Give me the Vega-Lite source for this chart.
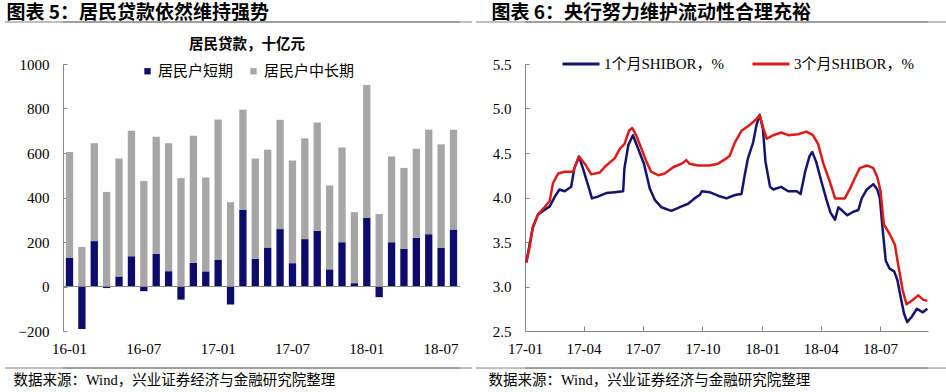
{
  "$schema": "https://vega.github.io/schema/vega-lite/v6.json",
  "background": "white",
  "padding": {"left": 4, "top": 3, "right": 0, "bottom": 0},
  "config": {"view": {"stroke": null}, "font": "Liberation Serif"},
  "datasets": {
    "loans": [
      {"m":"16-01","s":"居民户短期","v":128},{"m":"16-01","s":"居民户中长期","v":477},
      {"m":"16-02","s":"居民户短期","v":-191},{"m":"16-02","s":"居民户中长期","v":178},
      {"m":"16-03","s":"居民户短期","v":204},{"m":"16-03","s":"居民户中长期","v":440},
      {"m":"16-04","s":"居民户短期","v":-7},{"m":"16-04","s":"居民户中长期","v":425},
      {"m":"16-05","s":"居民户短期","v":45},{"m":"16-05","s":"居民户中长期","v":530},
      {"m":"16-06","s":"居民户短期","v":136},{"m":"16-06","s":"居民户中长期","v":564},
      {"m":"16-07","s":"居民户短期","v":-21},{"m":"16-07","s":"居民户中长期","v":474},
      {"m":"16-08","s":"居民户短期","v":146},{"m":"16-08","s":"居民户中长期","v":527},
      {"m":"16-09","s":"居民户短期","v":69},{"m":"16-09","s":"居民户中长期","v":575},
      {"m":"16-10","s":"居民户短期","v":-59},{"m":"16-10","s":"居民户中长期","v":487},
      {"m":"16-11","s":"居民户短期","v":107},{"m":"16-11","s":"居民户中长期","v":570},
      {"m":"16-12","s":"居民户短期","v":68},{"m":"16-12","s":"居民户中长期","v":422},
      {"m":"17-01","s":"居民户短期","v":121},{"m":"17-01","s":"居民户中长期","v":630},
      {"m":"17-02","s":"居民户短期","v":-81},{"m":"17-02","s":"居民户中长期","v":379},
      {"m":"17-03","s":"居民户短期","v":344},{"m":"17-03","s":"居民户中长期","v":451},
      {"m":"17-04","s":"居民户短期","v":125},{"m":"17-04","s":"居民户中长期","v":450},
      {"m":"17-05","s":"居民户短期","v":175},{"m":"17-05","s":"居民户中长期","v":440},
      {"m":"17-06","s":"居民户短期","v":258},{"m":"17-06","s":"居民户中长期","v":491},
      {"m":"17-07","s":"居民户短期","v":105},{"m":"17-07","s":"居民户中长期","v":461},
      {"m":"17-08","s":"居民户短期","v":213},{"m":"17-08","s":"居民户中长期","v":453},
      {"m":"17-09","s":"居民户短期","v":250},{"m":"17-09","s":"居民户中长期","v":487},
      {"m":"17-10","s":"居民户短期","v":77},{"m":"17-10","s":"居民户中长期","v":377},
      {"m":"17-11","s":"居民户短期","v":199},{"m":"17-11","s":"居民户中长期","v":426},
      {"m":"17-12","s":"居民户短期","v":15},{"m":"17-12","s":"居民户中长期","v":319},
      {"m":"18-01","s":"居民户短期","v":308},{"m":"18-01","s":"居民户中长期","v":598},
      {"m":"18-02","s":"居民户短期","v":-48},{"m":"18-02","s":"居民户中长期","v":326},
      {"m":"18-03","s":"居民户短期","v":199},{"m":"18-03","s":"居民户中长期","v":385},
      {"m":"18-04","s":"居民户短期","v":170},{"m":"18-04","s":"居民户中长期","v":363},
      {"m":"18-05","s":"居民户短期","v":219},{"m":"18-05","s":"居民户中长期","v":400},
      {"m":"18-06","s":"居民户短期","v":235},{"m":"18-06","s":"居民户中长期","v":470},
      {"m":"18-07","s":"居民户短期","v":173},{"m":"18-07","s":"居民户中长期","v":466},
      {"m":"18-08","s":"居民户短期","v":256},{"m":"18-08","s":"居民户中长期","v":449}
    ],
    "shibor": [
      {"d":"2017-01-03","s":"1个月SHIBOR，%","v":3.27},{"d":"2017-01-08","s":"1个月SHIBOR，%","v":3.47},
      {"d":"2017-01-13","s":"1个月SHIBOR，%","v":3.66},{"d":"2017-01-21","s":"1个月SHIBOR，%","v":3.81},
      {"d":"2017-01-31","s":"1个月SHIBOR，%","v":3.86},{"d":"2017-02-08","s":"1个月SHIBOR，%","v":3.90},
      {"d":"2017-02-16","s":"1个月SHIBOR，%","v":4.01},{"d":"2017-02-23","s":"1个月SHIBOR，%","v":4.09},
      {"d":"2017-03-03","s":"1个月SHIBOR，%","v":4.07},{"d":"2017-03-13","s":"1个月SHIBOR，%","v":4.12},
      {"d":"2017-03-18","s":"1个月SHIBOR，%","v":4.33},{"d":"2017-03-25","s":"1个月SHIBOR，%","v":4.46},
      {"d":"2017-03-31","s":"1个月SHIBOR，%","v":4.33},{"d":"2017-04-08","s":"1个月SHIBOR，%","v":4.14},
      {"d":"2017-04-14","s":"1个月SHIBOR，%","v":3.99},{"d":"2017-04-23","s":"1个月SHIBOR，%","v":4.01},
      {"d":"2017-05-06","s":"1个月SHIBOR，%","v":4.05},{"d":"2017-05-19","s":"1个月SHIBOR，%","v":4.06},
      {"d":"2017-06-01","s":"1个月SHIBOR，%","v":4.07},{"d":"2017-06-03","s":"1个月SHIBOR，%","v":4.33},
      {"d":"2017-06-09","s":"1个月SHIBOR，%","v":4.59},{"d":"2017-06-16","s":"1个月SHIBOR，%","v":4.70},
      {"d":"2017-06-24","s":"1个月SHIBOR，%","v":4.55},{"d":"2017-07-03","s":"1个月SHIBOR，%","v":4.38},
      {"d":"2017-07-12","s":"1个月SHIBOR，%","v":4.10},{"d":"2017-07-20","s":"1个月SHIBOR，%","v":3.97},
      {"d":"2017-07-30","s":"1个月SHIBOR，%","v":3.89},{"d":"2017-08-14","s":"1个月SHIBOR，%","v":3.85},
      {"d":"2017-08-30","s":"1个月SHIBOR，%","v":3.90},{"d":"2017-09-09","s":"1个月SHIBOR，%","v":3.93},
      {"d":"2017-09-19","s":"1个月SHIBOR，%","v":3.99},{"d":"2017-09-27","s":"1个月SHIBOR，%","v":4.03},
      {"d":"2017-09-30","s":"1个月SHIBOR，%","v":4.07},{"d":"2017-10-12","s":"1个月SHIBOR，%","v":4.06},
      {"d":"2017-10-25","s":"1个月SHIBOR，%","v":4.02},{"d":"2017-11-07","s":"1个月SHIBOR，%","v":3.99},
      {"d":"2017-11-17","s":"1个月SHIBOR，%","v":4.02},{"d":"2017-11-22","s":"1个月SHIBOR，%","v":4.03},
      {"d":"2017-11-30","s":"1个月SHIBOR，%","v":4.04},{"d":"2017-12-05","s":"1个月SHIBOR，%","v":4.25},
      {"d":"2017-12-10","s":"1个月SHIBOR，%","v":4.44},{"d":"2017-12-18","s":"1个月SHIBOR，%","v":4.62},
      {"d":"2017-12-23","s":"1个月SHIBOR，%","v":4.81},{"d":"2017-12-28","s":"1个月SHIBOR，%","v":4.93},
      {"d":"2018-01-02","s":"1个月SHIBOR，%","v":4.77},{"d":"2018-01-06","s":"1个月SHIBOR，%","v":4.40},
      {"d":"2018-01-13","s":"1个月SHIBOR，%","v":4.12},{"d":"2018-01-18","s":"1个月SHIBOR，%","v":4.09},
      {"d":"2018-01-30","s":"1个月SHIBOR，%","v":4.12},{"d":"2018-02-10","s":"1个月SHIBOR，%","v":4.07},
      {"d":"2018-02-23","s":"1个月SHIBOR，%","v":4.07},{"d":"2018-03-01","s":"1个月SHIBOR，%","v":4.04},
      {"d":"2018-03-08","s":"1个月SHIBOR，%","v":4.29},{"d":"2018-03-15","s":"1个月SHIBOR，%","v":4.47},
      {"d":"2018-03-19","s":"1个月SHIBOR，%","v":4.51},{"d":"2018-03-25","s":"1个月SHIBOR，%","v":4.40},
      {"d":"2018-04-02","s":"1个月SHIBOR，%","v":4.18},{"d":"2018-04-10","s":"1个月SHIBOR，%","v":3.97},
      {"d":"2018-04-16","s":"1个月SHIBOR，%","v":3.83},{"d":"2018-04-23","s":"1个月SHIBOR，%","v":3.75},
      {"d":"2018-04-28","s":"1个月SHIBOR，%","v":3.89},{"d":"2018-05-03","s":"1个月SHIBOR，%","v":3.86},
      {"d":"2018-05-12","s":"1个月SHIBOR，%","v":3.80},{"d":"2018-05-21","s":"1个月SHIBOR，%","v":3.84},
      {"d":"2018-05-29","s":"1个月SHIBOR，%","v":3.86},{"d":"2018-06-03","s":"1个月SHIBOR，%","v":3.99},
      {"d":"2018-06-11","s":"1个月SHIBOR，%","v":4.09},{"d":"2018-06-21","s":"1个月SHIBOR，%","v":4.15},
      {"d":"2018-06-27","s":"1个月SHIBOR，%","v":4.09},{"d":"2018-07-01","s":"1个月SHIBOR，%","v":3.99},
      {"d":"2018-07-05","s":"1个月SHIBOR，%","v":3.66},{"d":"2018-07-10","s":"1个月SHIBOR，%","v":3.29},
      {"d":"2018-07-16","s":"1个月SHIBOR，%","v":3.20},{"d":"2018-07-23","s":"1个月SHIBOR，%","v":3.17},
      {"d":"2018-07-28","s":"1个月SHIBOR，%","v":3.07},{"d":"2018-08-02","s":"1个月SHIBOR，%","v":2.88},
      {"d":"2018-08-07","s":"1个月SHIBOR，%","v":2.70},{"d":"2018-08-12","s":"1个月SHIBOR，%","v":2.60},
      {"d":"2018-08-19","s":"1个月SHIBOR，%","v":2.66},{"d":"2018-08-27","s":"1个月SHIBOR，%","v":2.75},
      {"d":"2018-09-05","s":"1个月SHIBOR，%","v":2.71},{"d":"2018-09-12","s":"1个月SHIBOR，%","v":2.75},
      {"d":"2017-01-03","s":"3个月SHIBOR，%","v":3.27},{"d":"2017-01-08","s":"3个月SHIBOR，%","v":3.44},
      {"d":"2017-01-13","s":"3个月SHIBOR，%","v":3.67},{"d":"2017-01-21","s":"3个月SHIBOR，%","v":3.81},
      {"d":"2017-01-31","s":"3个月SHIBOR，%","v":3.89},{"d":"2017-02-08","s":"3个月SHIBOR，%","v":3.96},
      {"d":"2017-02-13","s":"3个月SHIBOR，%","v":4.16},{"d":"2017-02-21","s":"3个月SHIBOR，%","v":4.27},
      {"d":"2017-03-03","s":"3个月SHIBOR，%","v":4.29},{"d":"2017-03-16","s":"3个月SHIBOR，%","v":4.29},
      {"d":"2017-03-25","s":"3个月SHIBOR，%","v":4.46},{"d":"2017-04-03","s":"3个月SHIBOR，%","v":4.38},
      {"d":"2017-04-13","s":"3个月SHIBOR，%","v":4.26},{"d":"2017-04-26","s":"3个月SHIBOR，%","v":4.28},
      {"d":"2017-05-06","s":"3个月SHIBOR，%","v":4.36},{"d":"2017-05-19","s":"3个月SHIBOR，%","v":4.44},
      {"d":"2017-05-27","s":"3个月SHIBOR，%","v":4.55},{"d":"2017-06-03","s":"3个月SHIBOR，%","v":4.60},
      {"d":"2017-06-10","s":"3个月SHIBOR，%","v":4.75},{"d":"2017-06-15","s":"3个月SHIBOR，%","v":4.78},
      {"d":"2017-06-21","s":"3个月SHIBOR，%","v":4.70},{"d":"2017-06-29","s":"3个月SHIBOR，%","v":4.55},
      {"d":"2017-07-07","s":"3个月SHIBOR，%","v":4.40},{"d":"2017-07-14","s":"3个月SHIBOR，%","v":4.29},
      {"d":"2017-07-25","s":"3个月SHIBOR，%","v":4.25},{"d":"2017-08-04","s":"3个月SHIBOR，%","v":4.27},
      {"d":"2017-08-17","s":"3个月SHIBOR，%","v":4.34},{"d":"2017-08-30","s":"3个月SHIBOR，%","v":4.38},
      {"d":"2017-09-06","s":"3个月SHIBOR，%","v":4.42},{"d":"2017-09-11","s":"3个月SHIBOR，%","v":4.38},
      {"d":"2017-09-24","s":"3个月SHIBOR，%","v":4.36},{"d":"2017-10-12","s":"3个月SHIBOR，%","v":4.36},
      {"d":"2017-10-25","s":"3个月SHIBOR，%","v":4.38},{"d":"2017-11-07","s":"3个月SHIBOR，%","v":4.44},
      {"d":"2017-11-12","s":"3个月SHIBOR，%","v":4.47},{"d":"2017-11-20","s":"3个月SHIBOR，%","v":4.62},
      {"d":"2017-11-30","s":"3个月SHIBOR，%","v":4.75},{"d":"2017-12-10","s":"3个月SHIBOR，%","v":4.80},
      {"d":"2017-12-20","s":"3个月SHIBOR，%","v":4.86},{"d":"2017-12-28","s":"3个月SHIBOR，%","v":4.92},
      {"d":"2018-01-03","s":"3个月SHIBOR，%","v":4.77},{"d":"2018-01-08","s":"3个月SHIBOR，%","v":4.66},
      {"d":"2018-01-18","s":"3个月SHIBOR，%","v":4.70},{"d":"2018-01-30","s":"3个月SHIBOR，%","v":4.73},
      {"d":"2018-02-10","s":"3个月SHIBOR，%","v":4.70},{"d":"2018-02-25","s":"3个月SHIBOR，%","v":4.71},
      {"d":"2018-03-10","s":"3个月SHIBOR，%","v":4.74},{"d":"2018-03-20","s":"3个月SHIBOR，%","v":4.70},
      {"d":"2018-03-28","s":"3个月SHIBOR，%","v":4.60},{"d":"2018-04-05","s":"3个月SHIBOR，%","v":4.38},
      {"d":"2018-04-14","s":"3个月SHIBOR，%","v":4.20},{"d":"2018-04-23","s":"3个月SHIBOR，%","v":3.99},
      {"d":"2018-04-30","s":"3个月SHIBOR，%","v":3.99},{"d":"2018-05-08","s":"3个月SHIBOR，%","v":3.99},
      {"d":"2018-05-16","s":"3个月SHIBOR，%","v":4.10},{"d":"2018-05-23","s":"3个月SHIBOR，%","v":4.21},
      {"d":"2018-05-31","s":"3个月SHIBOR，%","v":4.33},{"d":"2018-06-11","s":"3个月SHIBOR，%","v":4.36},
      {"d":"2018-06-21","s":"3个月SHIBOR，%","v":4.33},{"d":"2018-06-27","s":"3个月SHIBOR，%","v":4.23},
      {"d":"2018-07-02","s":"3个月SHIBOR，%","v":4.07},{"d":"2018-07-07","s":"3个月SHIBOR，%","v":3.70},
      {"d":"2018-07-16","s":"3个月SHIBOR，%","v":3.59},{"d":"2018-07-24","s":"3个月SHIBOR，%","v":3.47},
      {"d":"2018-07-29","s":"3个月SHIBOR，%","v":3.25},{"d":"2018-08-05","s":"3个月SHIBOR，%","v":2.96},
      {"d":"2018-08-11","s":"3个月SHIBOR，%","v":2.80},{"d":"2018-08-19","s":"3个月SHIBOR，%","v":2.84},
      {"d":"2018-08-29","s":"3个月SHIBOR，%","v":2.90},{"d":"2018-09-06","s":"3个月SHIBOR，%","v":2.85},
      {"d":"2018-09-12","s":"3个月SHIBOR，%","v":2.84}
    ],
    "sepL": [{"a": 0, "b": 1, "yh": 1188.8, "yf": -366.3}],
    "sepR": [{"a": 0, "b": 1, "yh": 5.972, "yf": 2.084}]
  },
  "spacing": 2,
  "resolve": {"scale": {"color": "independent", "x": "independent", "y": "independent"}, "legend": {"color": "independent"}},
  "hconcat": [
    {
      "width": 397, "height": 267,
      "resolve": {"scale": {"x": "independent"}, "axis": {"x": "independent"}},
      "layer": [
        {
          "data": {"name": "loans"},
          "mark": {"type": "bar"},
          "encoding": {
            "x": {"field": "m", "type": "ordinal", "sort": null, "scale": {"paddingInner": 0.41, "paddingOuter": 0.23},
              "axis": {"orient": "bottom", "values": ["16-01","16-07","17-01","17-07","18-01","18-07"], "title": null, "domain": false, "ticks": false, "labelAngle": 0, "labelPadding": 10.5, "labelFont": "Liberation Serif", "labelFontSize": 15, "labelColor": "#000000"}},
            "y": {"field": "v", "type": "quantitative", "stack": "zero", "scale": {"domain": [-200, 1000], "nice": false},
              "axis": {"values": [-200,0,200,400,600,800,1000], "format": "d", "title": null, "grid": false, "domainColor": "#868686", "tickColor": "#868686", "tickSize": -4, "labelPadding": 18, "minExtent": 58, "labelFont": "Liberation Serif", "labelFontSize": 15, "labelColor": "#000000"}},
            "color": {"field": "s", "type": "nominal", "scale": {"domain": ["居民户短期","居民户中长期"], "range": ["#0c0c6c","#a6a6a6"]},
              "legend": {"orient": "none", "legendX": 77, "legendY": -26, "direction": "horizontal", "title": "居民贷款，十亿元", "titleFont": "Noto Sans CJK SC", "titleFontSize": 14.5, "titleFontWeight": "bold", "titleColor": "#000000", "titleAnchor": "middle", "titlePadding": 11, "titleLimit": 400, "symbolType": "square", "symbolSize": 40, "symbolStrokeWidth": 0, "labelFont": "Noto Sans CJK SC", "labelFontSize": 15, "labelColor": "#000000", "columnPadding": 12, "labelOffset": 3, "padding": 0}},
            "order": {"field": "s", "sort": "descending"}
          }
        },
        {
          "data": {"values": [{"k": 0.5}]},
          "mark": {"type": "rule", "color": "#868686", "strokeWidth": 1},
          "encoding": {"y": {"datum": 0, "type": "quantitative", "scale": {"domain": [-200, 1000], "nice": false}}}
        },
        {
          "data": {"name": "sepL"},
          "mark": {"type": "rule", "color": "#808080", "strokeWidth": 1, "clip": false},
          "encoding": {"y": {"field": "yh", "type": "quantitative", "scale": {"domain": [-200, 1000], "nice": false}}}
        },
        {
          "data": {"name": "sepL"},
          "mark": {"type": "rule", "color": "#808080", "strokeWidth": 1, "clip": false},
          "encoding": {"y": {"field": "yf", "type": "quantitative", "scale": {"domain": [-200, 1000], "nice": false}}}
        },
        {
          "data": {"name": "sepL"},
          "mark": {"type": "rule", "color": "#808080", "strokeWidth": 1, "clip": false},
          "encoding": {
            "x": {"field": "a", "type": "quantitative", "scale": {"domain": [0, 1], "range": [-58, 409]}, "axis": null},
            "x2": {"field": "b"},
            "y": {"field": "yh", "type": "quantitative", "scale": {"domain": [-200, 1000], "nice": false}}
          }
        },
        {
          "data": {"name": "sepL"},
          "mark": {"type": "rule", "color": "#808080", "strokeWidth": 1, "clip": false},
          "encoding": {
            "x": {"field": "a", "type": "quantitative", "scale": {"domain": [0, 1], "range": [-58, 409]}, "axis": null},
            "x2": {"field": "b"},
            "y": {"field": "yf", "type": "quantitative", "scale": {"domain": [-200, 1000], "nice": false}}
          }
        },
        {
          "data": {"values": [{"k": 0.5}]},
          "mark": {"type": "point", "opacity": 0},
          "encoding": {
            "x": {"field": "k", "type": "quantitative", "scale": {"domain": [0, 1]},
              "axis": {"orient": "top", "offset": 42, "domain": false, "ticks": false, "labels": false, "grid": false,
                "title": "图表 5：居民贷款依然维持强势", "titleFont": "Noto Sans CJK SC", "titleFontSize": 19, "titleFontWeight": "bold", "titleColor": "#000000", "titleAnchor": "start", "titleAlign": "left", "titleX": -57, "titlePadding": 0}}
          }
        },
        {
          "data": {"values": [{"k": 0.5}]},
          "mark": {"type": "point", "opacity": 0},
          "encoding": {
            "x": {"field": "k", "type": "quantitative", "scale": {"domain": [0, 1]},
              "axis": {"orient": "bottom", "offset": 37, "domain": false, "ticks": false, "labels": false, "grid": false,
                "title": "数据来源：Wind，兴业证券经济与金融研究院整理", "titleFont": "Liberation Serif, Noto Sans CJK SC", "titleFontSize": 14.5, "titleFontWeight": "normal", "titleColor": "#000000", "titleAnchor": "start", "titleAlign": "left", "titleX": -50, "titlePadding": 5}}
          }
        }
      ]
    },
    {
      "width": 403, "height": 267,
      "resolve": {"scale": {"x": "independent"}, "axis": {"x": "independent"}},
      "layer": [
        {
          "data": {"name": "shibor"},
          "mark": {"type": "line", "strokeWidth": 2.5, "strokeJoin": "round"},
          "encoding": {
            "x": {"field": "d", "type": "temporal",
              "scale": {"type": "utc", "domain": [{"year": 2017, "month": 1, "date": 1, "utc": true}, {"year": 2018, "month": 9, "date": 13, "utc": true}]},
              "axis": {"orient": "bottom", "values": [{"year": 2017, "month": 1, "date": 1, "utc": true}, {"year": 2017, "month": 4, "date": 1, "utc": true}, {"year": 2017, "month": 7, "date": 1, "utc": true}, {"year": 2017, "month": 10, "date": 1, "utc": true}, {"year": 2018, "month": 1, "date": 1, "utc": true}, {"year": 2018, "month": 4, "date": 1, "utc": true}, {"year": 2018, "month": 7, "date": 1, "utc": true}],
                "labelExpr": "utcFormat(datum.value, '%y-%m')", "title": null, "grid": false, "domainColor": "#868686", "tickColor": "#868686", "tickSize": -5, "labelPadding": 15.5, "labelFont": "Liberation Serif", "labelFontSize": 15, "labelColor": "#000000", "labelFlush": false}},
            "y": {"field": "v", "type": "quantitative", "scale": {"domain": [2.5, 5.5], "nice": false, "zero": false},
              "axis": {"values": [2.5,3,3.5,4,4.5,5,5.5], "format": ".1f", "title": null, "grid": false, "domainColor": "#868686", "tickColor": "#868686", "tickSize": -4, "labelPadding": 18, "minExtent": 48, "labelFont": "Liberation Serif", "labelFontSize": 15, "labelColor": "#000000"}},
            "color": {"field": "s", "type": "nominal", "scale": {"domain": ["1个月SHIBOR，%","3个月SHIBOR，%"], "range": ["#14146e","#dd1c1a"]},
              "legend": {"orient": "none", "legendX": 36, "legendY": -20, "direction": "horizontal", "title": null, "symbolType": "stroke", "symbolSize": 1369, "symbolStrokeWidth": 3, "labelFont": "Liberation Serif, Noto Sans CJK SC", "labelFontSize": 15, "labelColor": "#000000", "columnPadding": 21, "labelLimit": 300, "labelOffset": 3, "padding": 0}}
          }
        },
        {
          "data": {"name": "sepR"},
          "mark": {"type": "rule", "color": "#808080", "strokeWidth": 1, "clip": false},
          "encoding": {"y": {"field": "yh", "type": "quantitative", "scale": {"domain": [2.5, 5.5], "nice": false, "zero": false}}}
        },
        {
          "data": {"name": "sepR"},
          "mark": {"type": "rule", "color": "#808080", "strokeWidth": 1, "clip": false},
          "encoding": {"y": {"field": "yf", "type": "quantitative", "scale": {"domain": [2.5, 5.5], "nice": false, "zero": false}}}
        },
        {
          "data": {"name": "sepR"},
          "mark": {"type": "rule", "color": "#808080", "strokeWidth": 1, "clip": false},
          "encoding": {
            "x": {"field": "a", "type": "quantitative", "scale": {"domain": [0, 1], "range": [-49, 424]}, "axis": null},
            "x2": {"field": "b"},
            "y": {"field": "yh", "type": "quantitative", "scale": {"domain": [2.5, 5.5], "nice": false, "zero": false}}
          }
        },
        {
          "data": {"name": "sepR"},
          "mark": {"type": "rule", "color": "#808080", "strokeWidth": 1, "clip": false},
          "encoding": {
            "x": {"field": "a", "type": "quantitative", "scale": {"domain": [0, 1], "range": [-49, 424]}, "axis": null},
            "x2": {"field": "b"},
            "y": {"field": "yf", "type": "quantitative", "scale": {"domain": [2.5, 5.5], "nice": false, "zero": false}}
          }
        },
        {
          "data": {"values": [{"k": 0.5}]},
          "mark": {"type": "point", "opacity": 0},
          "encoding": {
            "x": {"field": "k", "type": "quantitative", "scale": {"domain": [0, 1]},
              "axis": {"orient": "top", "offset": 42, "domain": false, "ticks": false, "labels": false, "grid": false,
                "title": "图表 6：央行努力维护流动性合理充裕", "titleFont": "Noto Sans CJK SC", "titleFontSize": 19, "titleFontWeight": "bold", "titleColor": "#000000", "titleAnchor": "start", "titleAlign": "left", "titleX": -34, "titlePadding": 0}}
          }
        },
        {
          "data": {"values": [{"k": 0.5}]},
          "mark": {"type": "point", "opacity": 0},
          "encoding": {
            "x": {"field": "k", "type": "quantitative", "scale": {"domain": [0, 1]},
              "axis": {"orient": "bottom", "offset": 37, "domain": false, "ticks": false, "labels": false, "grid": false,
                "title": "数据来源：Wind，兴业证券经济与金融研究院整理", "titleFont": "Liberation Serif, Noto Sans CJK SC", "titleFontSize": 14.5, "titleFontWeight": "normal", "titleColor": "#000000", "titleAnchor": "start", "titleAlign": "left", "titleX": -37, "titlePadding": 5}}
          }
        }
      ]
    }
  ]
}
